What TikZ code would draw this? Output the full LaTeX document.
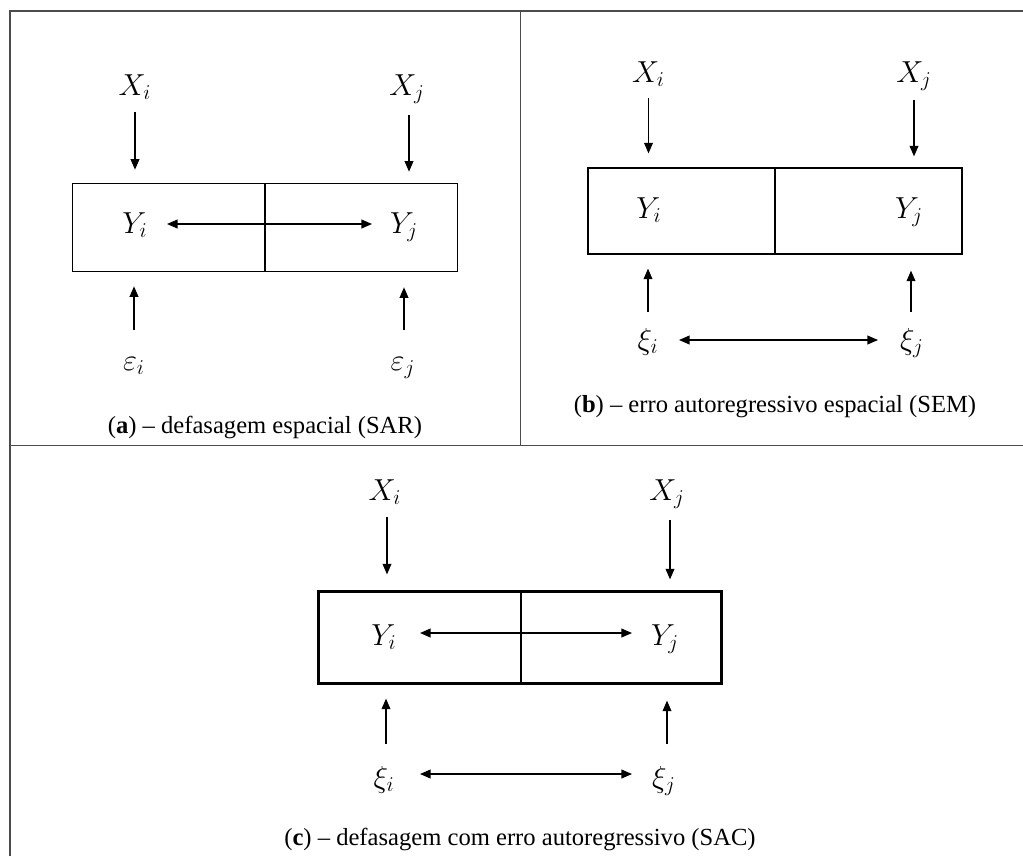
\documentclass[tikz,border=0pt]{standalone}
\usepackage{fontspec}
\setmainfont{Liberation Serif}
\usetikzlibrary{arrows.meta,calc}
\begin{document}
\begin{tikzpicture}[x=0.02cm,y=-0.02cm,
  >={Triangle[length=6pt,width=5pt]},
  arr/.style={->, line width=0.7pt},
  darr/.style={<->, line width=0.7pt},
  lbl/.style={anchor=base, inner sep=0pt, font=\fontsize{17}{20}\selectfont},
  capt/.style={anchor=base, inner sep=0pt, font=\fontsize{14}{17}\selectfont},
  frame/.style={line width=1.1pt, draw=black!70},
  cell/.style 2 args={draw, line width=0.7pt, inner sep=0pt, minimum width=#1*0.02cm, minimum height=#2*0.02cm},
  boldbox/.style={line width=1.4pt}
]
\useasboundingbox (0,0) rectangle (1023,856);
% outer frame
\draw[frame] (10,856) -- (10,11) -- (1023,11);
\draw[frame] (10,445.5) -- (1023,445.5);
\draw[frame] (520.5,11) -- (520.5,445.5);

% ---------- panel (a)
\node[cell={192.3}{88.4}] (aL) at (168.85,227.5) {};
\node[cell={192.3}{88.4}] (aR) at (361.15,227.5) {};
\node[lbl] (aXi) at (135,95) {$X_i$};
\node[lbl] (aXj) at (407,95) {$X_j$};
\node[lbl] (aYi) at (135,233) {$Y_i$};
\node[lbl] (aYj) at (404,233) {$Y_j$};
\node[lbl] (aEi) at (134,370) {$\varepsilon_i$};
\node[lbl] (aEj) at (403,370) {$\varepsilon_j$};
\node[capt] (aCap) at (265,433) {(\textbf{a}) – defasagem espacial (SAR)};
\draw[arr] ($(aXi.base)+(0,17)$) -- ($(aXi.base |- aL.north)+(0,-13)$);
\draw[arr] ($(aXj.base)+(2,20)$) -- ($(aXj.base |- aR.north)+(2,-11)$);
\draw[darr] ($(aYi.base)+(32,-9)$) -- ($(aYj.base)+(-32,-9)$);
\draw[arr] ($(aEi.base)+(0,-40)$) -- ($(aEi.base |- aL.south)+(0,14)$);
\draw[arr] ($(aEj.base)+(1,-40)$) -- ($(aEj.base |- aR.south)+(1,15)$);

% ---------- panel (b)
\node[cell={187}{86}] (bL) at (681.5,211) {};
\node[cell={187}{86}] (bR) at (868.5,211) {};
\node[lbl] (bXi) at (648.5,82) {$X_i$};
\node[lbl] (bXj) at (914,82) {$X_j$};
\node[lbl] (bYi) at (649,218) {$Y_i$};
\node[lbl] (bYj) at (909,218) {$Y_j$};
\node[lbl] (bEi) at (648,349) {$\xi_i$};
\node[lbl] (bEj) at (912,349) {$\xi_j$};
\node[capt] (bCap) at (775,412) {(\textbf{b}) – erro autoregressivo espacial (SEM)};
\draw[arr] ($(bXi.base)+(0,16)$) -- ($(bXi.base |- bL.north)+(0,-14)$);
\draw[arr] ($(bXj.base)+(0,18)$) -- ($(bXj.base |- bR.north)+(0,-11)$);
\draw[arr] ($(bEi.base)+(0,-37)$) -- ($(bEi.base |- bL.south)+(0,14)$);
\draw[arr] ($(bEj.base)+(-1,-37)$) -- ($(bEj.base |- bR.south)+(-1,16)$);
\draw[darr] ($(bEi.base)+(31,-9)$) -- ($(bEj.base)+(-34,-9)$);

% ---------- panel (c)
\node[cell={202}{91}] (cL) at (420,637.5) {};
\node[cell={200}{91}] (cR) at (621,637.5) {};
\draw[boldbox] (cL.north west) rectangle (cR.south east);
\node[lbl] (cXi) at (385,500) {$X_i$};
\node[lbl] (cXj) at (667,500) {$X_j$};
\node[lbl] (cYi) at (384,645) {$Y_i$};
\node[lbl] (cYj) at (665,645) {$Y_j$};
\node[lbl] (cEi) at (384,787) {$\xi_i$};
\node[lbl] (cEj) at (664,787) {$\xi_j$};
\node[capt] (cCap) at (520,845) {(\textbf{c}) – defasagem com erro autoregressivo (SAC)};
\draw[arr] ($(cXi.base)+(2,17)$) -- ($(cXi.base |- cL.north)+(2,-17)$);
\draw[arr] ($(cXj.base)+(3,20)$) -- ($(cXj.base |- cR.north)+(3,-12)$);
\draw[darr] ($(cYi.base)+(36,-12)$) -- ($(cYj.base)+(-33,-12)$);
\draw[arr] ($(cEi.base)+(2,-43)$) -- ($(cEi.base |- cL.south)+(2,15)$);
\draw[arr] ($(cEj.base)+(3,-43)$) -- ($(cEj.base |- cR.south)+(3,17)$);
\draw[darr] ($(cEi.base)+(36,-13)$) -- ($(cEj.base)+(-32,-13)$);
\end{tikzpicture}
\end{document}
